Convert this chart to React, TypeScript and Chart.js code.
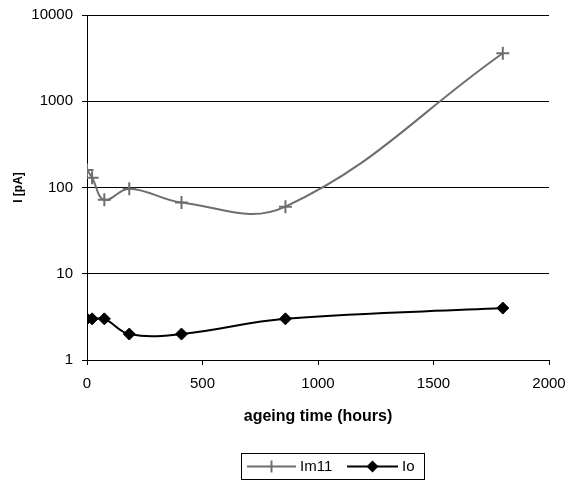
import React, { useEffect, useRef } from 'react';
import { Chart, registerables } from 'chart.js';

Chart.register(...registerables);

const hours = [0, 22, 75, 183, 409, 859, 1800];
const im11 = [160, 130, 72, 97, 67, 60, 3600];
const io = [3, 3, 3, 2, 2, 3, 4];
const yTickValues = [1, 10, 100, 1000, 10000];
const seriesNames = ['Im11', 'Io'];
const xTitle = 'ageing time (hours)';
const yTitle = 'I [pA]';

const FONT = '"Liberation Sans", Arial, sans-serif';

const legendPlugin = {
  id: 'boxLegend',
  afterDraw(chart: any) {
    const ctx = chart.ctx as CanvasRenderingContext2D;
    ctx.save();
    ctx.strokeStyle = '#000';
    ctx.lineWidth = 1;
    ctx.strokeRect(241.5, 453.5, 183, 26);
    const cy = 466.5;
    const items = [
      { x0: 247, x1: 296, label: seriesNames[0], ds: chart.data.datasets[0] },
      { x0: 347, x1: 398, label: seriesNames[1], ds: chart.data.datasets[1] },
    ];
    ctx.font = '15px ' + FONT;
    ctx.textBaseline = 'middle';
    ctx.textAlign = 'left';
    for (const it of items) {
      ctx.strokeStyle = it.ds.borderColor;
      ctx.lineWidth = 2;
      ctx.beginPath();
      ctx.moveTo(it.x0, cy);
      ctx.lineTo(it.x1, cy);
      ctx.stroke();
      const mx = (it.x0 + it.x1) / 2;
      const r = 6;
      if (it.ds.pointStyle === 'cross') {
        ctx.beginPath();
        ctx.moveTo(mx, cy - r);
        ctx.lineTo(mx, cy + r);
        ctx.stroke();
      } else {
        ctx.fillStyle = it.ds.pointBackgroundColor;
        ctx.beginPath();
        ctx.moveTo(mx - r, cy);
        ctx.lineTo(mx, cy - r);
        ctx.lineTo(mx + r, cy);
        ctx.lineTo(mx, cy + r);
        ctx.closePath();
        ctx.fill();
      }
      ctx.fillStyle = '#000';
      ctx.fillText(it.label, it.x1 + 4, cy);
    }
    ctx.restore();
  },
};

export default function App() {
  const ref = useRef<HTMLCanvasElement | null>(null);
  useEffect(() => {
    if (!ref.current) return;
    const chart = new Chart(ref.current, {
      type: 'line',
      data: {
        datasets: [
          {
            label: seriesNames[0],
            data: hours.map((h, i) => ({ x: h, y: im11[i] })),
            borderColor: '#6e6e6e',
            backgroundColor: '#6e6e6e',
            borderWidth: 2,
            pointStyle: 'cross',
            pointRadius: 6.5,
            pointBorderWidth: 2,
            pointBorderColor: '#6e6e6e',
            pointBackgroundColor: '#6e6e6e',
            tension: 0.4,
          },
          {
            label: seriesNames[1],
            data: hours.map((h, i) => ({ x: h, y: io[i] })),
            borderColor: '#000',
            backgroundColor: '#000',
            borderWidth: 2,
            pointStyle: 'rectRot',
            pointRadius: 6,
            pointBorderWidth: 1,
            pointBorderColor: '#000',
            pointBackgroundColor: '#000',
            tension: 0.4,
          },
        ],
      } as any,
      options: {
        animation: false,
        responsive: false,
        devicePixelRatio: 1,
        layout: { padding: { left: 0, right: 20, top: 15, bottom: 53 } },
        plugins: { legend: { display: false }, tooltip: { enabled: false } },
        scales: {
          x: {
            type: 'linear',
            min: 0,
            max: 2000,
            ticks: {
              stepSize: 500,
              color: '#000',
              font: { family: FONT, size: 15 },
              padding: 10,
              maxRotation: 0,
              callback: (v: any) => String(v),
            },
            grid: { drawOnChartArea: false, drawTicks: true, tickLength: 5, color: '#000' },
            border: { display: true, color: '#000', width: 1 },
            title: {
              display: true,
              text: xTitle,
              color: '#000',
              font: { family: FONT, size: 16, weight: 'bold' },
              padding: { top: 0, bottom: 2 },
            },
            afterFit: (s: any) => {
              s.height = 68;
              s.paddingLeft = 0;
              s.paddingRight = 0;
            },
          },
          y: {
            type: 'logarithmic',
            min: 1,
            max: 10000,
            afterBuildTicks: (s: any) => {
              s.ticks = yTickValues.map((v) => ({ value: v }));
            },
            ticks: {
              color: '#000',
              font: { family: FONT, size: 15 },
              padding: 9,
              callback: (v: any) => String(v),
            },
            grid: { color: '#000', lineWidth: 1, tickLength: 5, drawTicks: true },
            border: { display: true, color: '#000', width: 1 },
            title: {
              display: true,
              text: yTitle,
              color: '#000',
              font: { family: FONT, size: 12, weight: 'bold' },
              padding: { top: 11, bottom: 0 },
            },
            afterFit: (s: any) => {
              s.width = 87;
              s.paddingTop = 0;
              s.paddingBottom = 0;
            },
          },
        },
      } as any,
      plugins: [legendPlugin],
    });
    return () => chart.destroy();
  }, []);
  return (
    <div style={{ position: 'absolute', left: 0, top: 0, width: 569, height: 481, background: '#fff' }}>
      <canvas ref={ref} width={569} height={481} style={{ display: 'block' }} />
    </div>
  );
}
